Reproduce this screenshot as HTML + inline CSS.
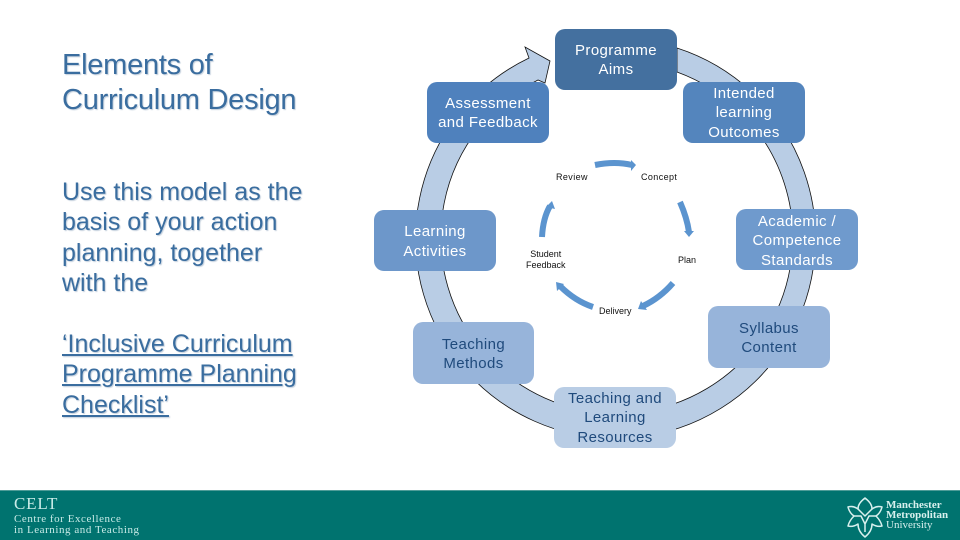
<!DOCTYPE html>
<html><head><meta charset="utf-8">
<style>
html,body{margin:0;padding:0;background:#fff}
#p{position:relative;width:960px;height:540px;overflow:hidden;background:#fff;font-family:"Liberation Sans",sans-serif}
.t{position:absolute;left:62px;color:#3a6d9f;font-size:25px;letter-spacing:0;white-space:nowrap;text-shadow:1px 1px 1px #c3cfdc}
.b{position:absolute;box-sizing:border-box;padding-top:1px;width:122px;height:61px;border-radius:10px;display:flex;align-items:center;justify-content:center;text-align:center;font-size:15px;line-height:19.3px;letter-spacing:.4px}
.w{color:#fff}.d{color:#1f4a7c}
.s{position:absolute;font-size:9px;line-height:10.5px;color:#111;text-align:center;white-space:nowrap;letter-spacing:.4px}
#f{position:absolute;left:0;top:490px;width:960px;height:50px;background:#00736f;border-top:1px solid #4f9c98;box-sizing:border-box}
.f{position:absolute;white-space:nowrap;font-family:"Liberation Serif",serif;color:#c8ebe7}
</style></head><body><div id="p">

<div class="t" style="top:48px;font-size:29px;line-height:35px;letter-spacing:-.25px">Elements of<br>Curriculum Design</div>
<div class="t" style="top:177px;line-height:30.3px">Use this model as the<br>basis of your action<br>planning, together<br>with the</div>
<div class="t" style="top:329px;line-height:30.3px;text-decoration:underline">‘Inclusive Curriculum<br>Programme Planning<br>Checklist’</div>

<svg width="960" height="540" style="position:absolute;left:0;top:0">
<path d="M529 58L525 47L550 61L545 83L538 80A176 176 0 1 0 677 72L677 48A200 200 0 1 1 529 58Z" fill="#b9cde5" stroke="#111" stroke-width=".8"/>
<g fill="none" stroke="#5b94cf" stroke-width="6">
<path d="M595 165Q615 161 632 165"/>
<path d="M680 202Q687 218 689 232"/>
<path d="M673 283Q660 298 643 306"/>
<path d="M593 307Q575 301 560 286"/>
<path d="M542 237Q543 218 550 206"/>
</g>
<g fill="#5b94cf">
<path d="M631 160L636 165L631 171Z"/>
<path d="M684 231L689 237L694 231Z"/>
<path d="M641 301L638 309L647 310Z"/>
<path d="M556 282L557 291L564 284Z"/>
<path d="M546 207L552 201L555 209Z"/>
</g>
</svg>

<div class="b w" style="left:555px;top:29px;background:#44709f">Programme<br>Aims</div>
<div class="b w" style="left:427px;top:82px;background:#4f81bd">Assessment<br>and Feedback</div>
<div class="b w" style="left:683px;top:82px;background:#5485bd">Intended<br>learning<br>Outcomes</div>
<div class="b w" style="left:736px;top:209px;padding-top:3px;background:#6f9acd">Academic /<br>Competence<br>Standards</div>
<div class="b w" style="left:374px;top:210px;padding-top:2px;background:#6d97ca">Learning<br>Activities</div>
<div class="b d" style="left:708px;top:306px;height:62px;padding-top:2px;background:#97b4da">Syllabus<br>Content</div>
<div class="b d" style="left:413px;top:322px;height:62px;width:121px;padding-top:2px;background:#97b4da">Teaching<br>Methods</div>
<div class="b d" style="left:554px;top:387px;background:#b9cde5">Teaching and<br>Learning<br>Resources</div>

<div class="s" style="left:556px;top:172px">Review</div>
<div class="s" style="left:641px;top:172px">Concept</div>
<div class="s" style="left:678px;top:255px;letter-spacing:0">Plan</div>
<div class="s" style="left:599px;top:306px;letter-spacing:0">Delivery</div>
<div class="s" style="left:526px;top:249px;letter-spacing:0">Student<br>Feedback</div>

<div id="f">
<div class="f" style="left:14px;top:3px;font-size:17px;letter-spacing:.8px">CELT</div>
<div class="f" style="left:14px;top:23px;font-size:11px;line-height:10.5px;letter-spacing:.55px">Centre for Excellence<br>in Learning and Teaching</div>
<svg width="36" height="42" viewBox="0 0 36 42" style="position:absolute;left:847px;top:5px" fill="none" stroke="#d8f0ee" stroke-width="1.5" stroke-linejoin="round">
<path d="M18 2C23 6 25 9 25 13C29 10 32 10 35 11C34 15 32 18 29 20C32 23 34 26 35 30C31 31 28 30 25 28C25 33 23 37 18 41C13 37 11 33 11 28C8 30 5 31 1 30C2 26 4 23 7 20C4 18 2 15 1 11C4 10 7 10 11 13C11 9 13 6 18 2Z"/>
<path d="M11 13L18 20L25 13M7 20H14L18 28L22 20H29M18 28V36"/>
</svg>
<div class="f" style="left:886px;top:9px;font-size:11px;line-height:10px;font-weight:bold;color:#d8f0ee">Manchester<br>Metropolitan<br><span style="font-weight:normal">University</span></div>
</div>
</div></body></html>
